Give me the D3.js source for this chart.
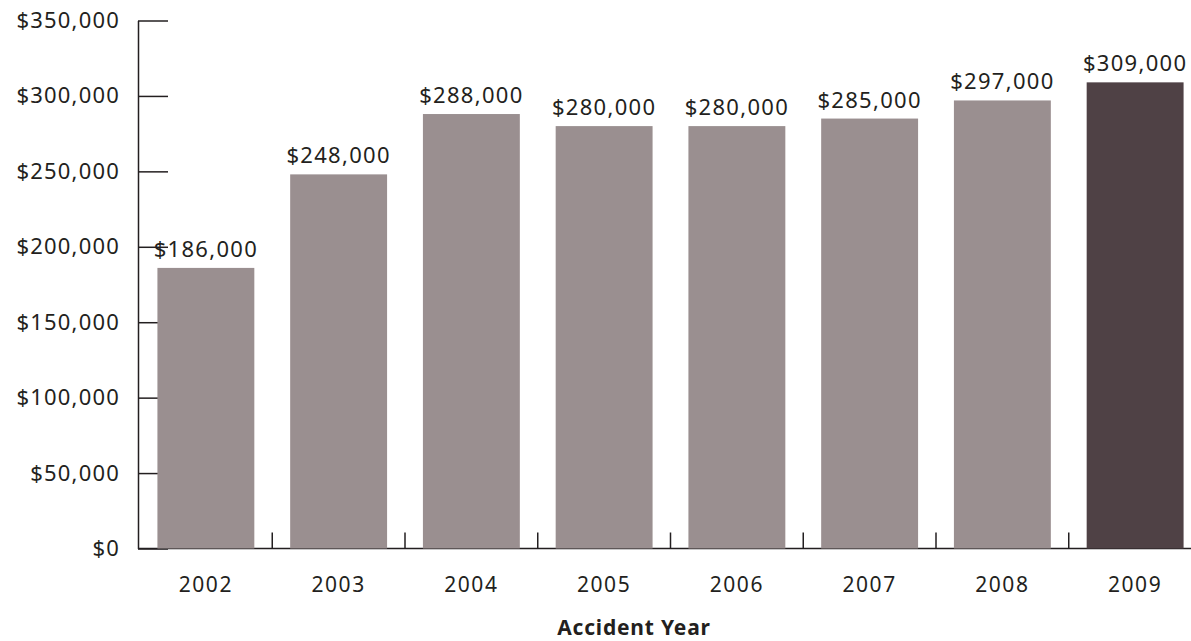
<!DOCTYPE html>
<html>
<head>
<meta charset="utf-8">
<script src="https://cdn.jsdelivr.net/npm/d3@7"></script>
<style>
  html, body { margin: 0; padding: 0; background: #fff; }
  svg { display: block; }
  text { font-family: "Noto Sans", "Open Sans", sans-serif; fill: #231f20; }
</style>
</head>
<body>
<svg id="chart" width="1191" height="641"></svg>
<script>
// Average claim cost by accident year
const years = ["2002", "2003", "2004", "2005", "2006", "2007", "2008", "2009"];
const values = [186000, 248000, 288000, 280000, 280000, 285000, 297000, 309000];
const yTicks = [0, 50000, 100000, 150000, 200000, 250000, 300000, 350000];
const xTitle = "Accident Year";

const svg = d3.select("#chart");
const W = 1191;
const axisX = 138;
const y0 = 548.5, yTop = 20.5;

const x = d3.scaleBand()
  .domain(years)
  .range([139.5, 1201.5])
  .paddingInner(0.27)
  .paddingOuter(0.135);

const y = d3.scaleLinear()
  .domain([0, 350000])
  .range([y0, yTop]);

const fmt = v => "$" + d3.format(",")(v);

// y axis with ticks pointing into the plot (drawn first so bars sit on top)
const yAxis = svg.append("g")
  .attr("transform", `translate(${axisX},0)`)
  .call(d3.axisLeft(y)
    .tickValues(yTicks)
    .tickFormat(fmt)
    .tickSize(-30)
    .tickSizeOuter(0)
    .tickPadding(18));
yAxis.selectAll("path, line").attr("stroke", "#231f20").attr("stroke-width", 1.5);
yAxis.selectAll("text")
  .style("font-size", "22px")
  .style("letter-spacing", "1.2px")
  .style("font-family", "\"Noto Sans\", sans-serif")
  .attr("fill", "#231f20");

// baseline
svg.append("line")
  .attr("x1", axisX).attr("x2", W)
  .attr("y1", y0).attr("y2", y0)
  .attr("stroke", "#231f20").attr("stroke-width", 1.5);

// category separators
const gap = x.step() - x.bandwidth();
svg.append("g")
  .selectAll("line")
  .data(years.slice(0, -1))
  .join("line")
  .attr("x1", d => x(d) + x.bandwidth() + gap / 2)
  .attr("x2", d => x(d) + x.bandwidth() + gap / 2)
  .attr("y1", y0).attr("y2", y0 - 16)
  .attr("stroke", "#231f20").attr("stroke-width", 1.5);

// bars
svg.append("g")
  .selectAll("rect")
  .data(years)
  .join("rect")
  .attr("x", d => x(d))
  .attr("width", x.bandwidth())
  .attr("y", (d, i) => y(values[i]))
  .attr("height", (d, i) => y0 - y(values[i]))
  .attr("fill", (d, i) => i === years.length - 1 ? "#4f4145" : "#9a8f90");

// value labels
svg.append("g")
  .selectAll("text")
  .data(years)
  .join("text")
  .attr("x", d => x(d) + x.bandwidth() / 2)
  .attr("y", (d, i) => y(values[i]) - 11)
  .attr("text-anchor", "middle")
  .style("font-size", "22px")
  .style("letter-spacing", "1.3px")
  .text((d, i) => fmt(values[i]));

// category labels
svg.append("g")
  .selectAll("text")
  .data(years)
  .join("text")
  .attr("x", d => x(d) + x.bandwidth() / 2)
  .attr("y", 592)
  .attr("text-anchor", "middle")
  .style("font-size", "21px")
  .style("letter-spacing", "1.5px")
  .text(d => d);

// axis title
svg.append("text")
  .attr("x", 634)
  .attr("y", 635)
  .attr("text-anchor", "middle")
  .style("font-size", "21px")
  .style("font-weight", "bold")
  .style("letter-spacing", "0.8px")
  .text(xTitle);
</script>
</body>
</html>
